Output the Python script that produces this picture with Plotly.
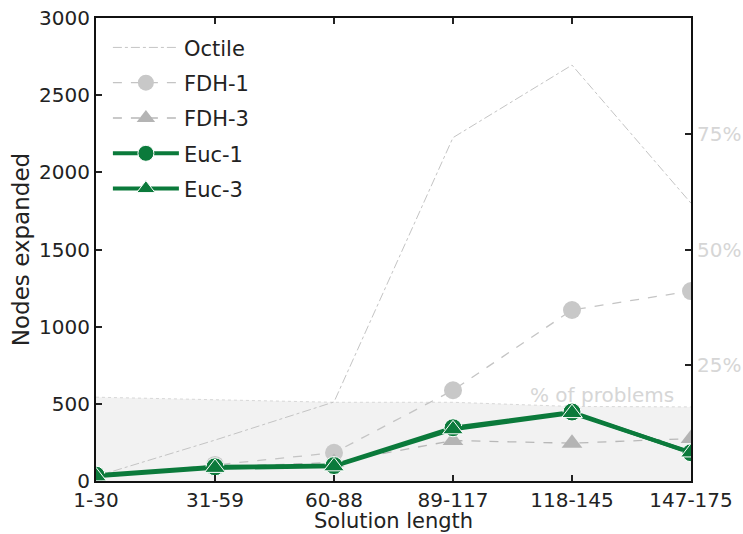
import plotly.graph_objects as go

# Solution-length buckets on the x axis
categories = ["1-30", "31-59", "60-88", "89-117", "118-145", "147-175"]

# Nodes expanded per heuristic
octile = [30, 265, 512, 2225, 2695, 1800]
fdh_1 = [30, 104, 183, 588, 1108, 1231]
fdh_3 = [22, 92, 120, 262, 245, 275]
euc_1 = [38, 92, 100, 345, 447, 183]
euc_3 = [30, 85, 95, 335, 440, 185]

# Share of problems falling in each bucket (%)
pct_problems = [18.1, 17.5, 17.0, 17.0, 16.1, 16.0]

xpos = list(range(len(categories)))

GREEN = "#0b7a3b"
FONT = "DejaVu Sans"

fig = go.Figure()

# Background share-of-problems area (right-hand percentage axis)
fig.add_trace(go.Scatter(
    x=xpos, y=pct_problems, yaxis="y", mode="lines",
    line=dict(color="#d8d8d8", width=1, dash="dot"),
    fill="tozeroy", fillcolor="#f2f2f2",
    showlegend=False, hoverinfo="skip",
))

fig.add_trace(go.Scatter(
    x=xpos, y=octile, yaxis="y2", name="Octile", mode="lines",
    line=dict(color="#c4c4c4", width=1, dash="dashdot"),
    legendgroup="a",
))
fig.add_trace(go.Scatter(
    x=xpos, y=fdh_1, yaxis="y2", name="FDH-1", mode="lines+markers",
    line=dict(color="#c4c4c4", width=1.3, dash="dash"),
    marker=dict(symbol="circle", size=18, color="#c8c8c8", line=dict(width=0)),
    legendgroup="b",
))
fig.add_trace(go.Scatter(
    x=xpos, y=fdh_3, yaxis="y2", name="FDH-3", mode="lines+markers",
    line=dict(color="#b8b8b8", width=1.3, dash="dash"),
    marker=dict(symbol="triangle-up", size=18, color="#b4b4b4", line=dict(width=0)),
    legendgroup="c",
))
fig.add_trace(go.Scatter(
    x=xpos, y=euc_1, yaxis="y2", name="Euc-1", mode="lines+markers",
    line=dict(color=GREEN, width=4),
    marker=dict(symbol="circle", size=18, color=GREEN, line=dict(width=1, color="white")),
    legendgroup="d",
))
fig.add_trace(go.Scatter(
    x=xpos, y=euc_3, yaxis="y2", name="Euc-3", mode="lines+markers",
    line=dict(color=GREEN, width=4),
    marker=dict(symbol="triangle-up", size=18, color=GREEN, line=dict(width=1, color="white")),
    legendgroup="e",
))

fig.add_annotation(
    x=4.87, y=18.6, xref="x", yref="y", text="% of problems",
    showarrow=False, xanchor="right", yanchor="middle",
    font=dict(family=FONT, size=20, color="#d6d6d6"),
)

# x-axis title, placed below the tick labels
fig.add_annotation(
    x=0.5, y=-0.1135, xref="paper", yref="paper", text="Solution length",
    showarrow=False, xanchor="center", yanchor="bottom", borderpad=0,
    font=dict(family=FONT, size=21, color="#222222"),
)

fig.update_layout(
    width=743, height=534,
    margin=dict(l=96, r=52, t=18, b=53, autoexpand=False),
    paper_bgcolor="white", plot_bgcolor="white",
    font=dict(family=FONT, size=20, color="#222222"),
    showlegend=True,
    legend=dict(
        x=0.02, y=0.98, xanchor="left", yanchor="top",
        bgcolor="rgba(0,0,0,0)", borderwidth=0,
        font=dict(family=FONT, size=21, color="#222222"),
        itemwidth=66, tracegroupgap=5, traceorder="grouped",
    ),
    xaxis=dict(
        range=[0, 5], tickvals=xpos, ticktext=categories,
        showline=True, linecolor="#111111", linewidth=2, mirror="ticks",
        ticks="inside", ticklen=6, tickcolor="#222222", tickwidth=1.5,
        showgrid=False, zeroline=False, automargin=False,
        tickfont=dict(family=FONT, size=20, color="#222222"),
    ),
    yaxis=dict(
        range=[0, 100], side="right", tickvals=[25, 50, 75],
        ticktext=["25%", "50%", "75%"],
        showline=True, linecolor="#111111", linewidth=2,
        ticks="inside", ticklen=6, tickcolor="#222222", tickwidth=1.5,
        showgrid=False, zeroline=False, automargin=False,
        tickfont=dict(family=FONT, size=20, color="#d6d6d6"),
    ),
    yaxis2=dict(
        range=[0, 3000], side="left", overlaying="y", dtick=500,
        showline=True, linecolor="#111111", linewidth=2,
        ticks="inside", ticklen=6, tickcolor="#222222", tickwidth=1.5,
        showgrid=False, zeroline=False, automargin=False,
        tickfont=dict(family=FONT, size=20, color="#222222"),
        title=dict(text="Nodes expanded", standoff=3,
                   font=dict(family=FONT, size=23, color="#222222")),
    ),
)

fig.write_html("out.html")
